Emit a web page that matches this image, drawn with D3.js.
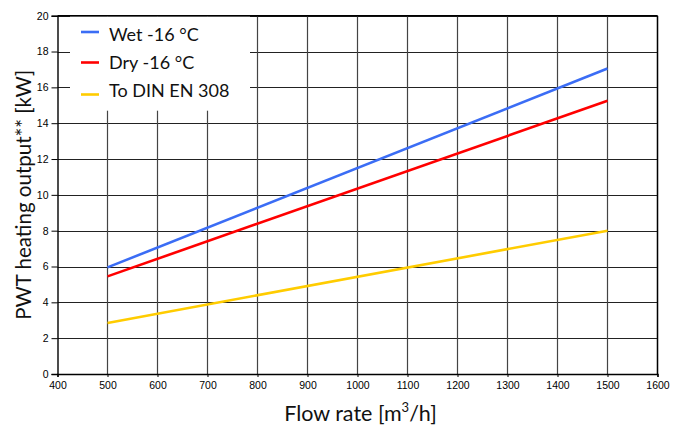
<!DOCTYPE html>
<html>
<head>
<meta charset="utf-8">
<script src="https://cdn.jsdelivr.net/npm/d3@7"></script>
<style>
  html, body { margin: 0; padding: 0; background: #fff; }
  svg { display: block; }
</style>
</head>
<body>
<svg id="chart" width="684" height="428"></svg>
<script>
// Flow rate in m³/h at which each curve is given
const flowRates = [500, 1500];
// Heating output in kW
const wetValues = [5.95, 17.05];
const dryValues = [5.45, 15.25];
const dinValues = [2.85, 8.0];

const seriesNames = ["Wet -16 °C", "Dry -16 °C", "To DIN EN 308"];
const seriesColors = ["#3b6df5", "#ff0000", "#ffcc00"];

const xTicks = [400, 500, 600, 700, 800, 900, 1000, 1100, 1200, 1300, 1400, 1500, 1600];
const yTicks = [0, 2, 4, 6, 8, 10, 12, 14, 16, 18, 20];

const series = [wetValues, dryValues, dinValues].map((vals, i) => ({
  name: seriesNames[i],
  color: seriesColors[i],
  points: flowRates.map((f, j) => ({ x: f, y: vals[j] }))
}));

const svg = d3.select("#chart");
const margin = { left: 57.5, right: 26.5, top: 15.7, bottom: 54 };
const W = 684, H = 428;

const x = d3.scaleLinear().domain([400, 1600]).range([margin.left, W - margin.right]);
const y = d3.scaleLinear().domain([0, 20]).range([H - margin.bottom, margin.top]);

const tickFont = "'Liberation Sans', Arial, sans-serif";
const titleFont = "Lato, 'Open Sans', sans-serif";

// Grid
const grid = svg.append("g");
grid.selectAll("line.h").data(yTicks.slice(1)).join("line")
  .attr("x1", x(400)).attr("x2", x(1600))
  .attr("y1", d => Math.round(y(d)) + 0.5).attr("y2", d => Math.round(y(d)) + 0.5)
  .attr("stroke", "#222").attr("stroke-width", 1);
grid.selectAll("line.v").data(xTicks.slice(1)).join("line")
  .attr("x1", d => x(d)).attr("x2", d => x(d))
  .attr("y1", y(0)).attr("y2", y(20))
  .attr("stroke", "#444").attr("stroke-width", 1.2);

// Axes
const fmt = d3.format("d");
const xAxis = d3.axisBottom(x).tickValues(xTicks).tickFormat(fmt).tickSize(3).tickPadding(5);
const yAxis = d3.axisLeft(y).tickValues(yTicks).tickFormat(fmt).tickSize(6).tickPadding(3);

const gx = svg.append("g").attr("transform", `translate(0,${y(0)})`).call(xAxis);
const gy = svg.append("g").attr("transform", `translate(${x(400)},0)`).call(yAxis);
[gx, gy].forEach(g => {
  g.select(".domain").attr("stroke", "#000").attr("stroke-width", 1.4);
  g.selectAll(".tick line").attr("stroke", "#000");
  g.selectAll(".tick text").attr("font-family", tickFont).attr("font-size", 10.5).attr("fill", "#000");
});

// Frame top and right
svg.append("line").attr("x1", x(400)).attr("x2", x(1600)).attr("y1", y(20)).attr("y2", y(20))
  .attr("stroke", "#000").attr("stroke-width", 1.4);
svg.append("line").attr("x1", x(1600)).attr("x2", x(1600)).attr("y1", y(20)).attr("y2", y(0))
  .attr("stroke", "#000").attr("stroke-width", 1.4);

// Data lines
const line = d3.line().x(d => x(d.x)).y(d => y(d.y));
svg.append("g").selectAll("path").data(series).join("path")
  .attr("d", d => line(d.points))
  .attr("fill", "none")
  .attr("stroke", d => d.color)
  .attr("stroke-width", 2.6);

// Legend
const legend = svg.append("g");
legend.append("rect").attr("x", 70).attr("y", y(20) + 1).attr("width", 180).attr("height", 94)
  .attr("fill", "#fff");
const swatchY = [32, 62.5, 94.5];
const textY = [41, 68.5, 96.5];
series.forEach((s, i) => {
  legend.append("line").attr("x1", 81).attr("x2", 99)
    .attr("y1", swatchY[i]).attr("y2", swatchY[i])
    .attr("stroke", s.color).attr("stroke-width", 2.6);
  legend.append("text").attr("x", 109).attr("y", textY[i])
    .attr("font-family", titleFont).attr("font-size", 18).attr("fill", "#111")
    .text(s.name);
});

// Axis titles
const xt = svg.append("text").attr("x", x(1000) + 3).attr("y", 421)
  .attr("text-anchor", "middle").attr("font-family", titleFont)
  .attr("font-size", 21.5).attr("fill", "#111");
xt.append("tspan").text("Flow rate [m");
xt.append("tspan").attr("font-size", 13).attr("dy", -9).text("3");
xt.append("tspan").attr("dy", 9).text("/h]");

svg.append("text")
  .attr("transform", `translate(31,${(y(0) + y(20)) / 2}) rotate(-90)`)
  .attr("text-anchor", "middle").attr("font-family", titleFont)
  .attr("font-size", 21.5).attr("fill", "#111")
  .attr("textLength", 250).attr("lengthAdjust", "spacingAndGlyphs")
  .text("PWT heating output** [kW]");
</script>
</body>
</html>
